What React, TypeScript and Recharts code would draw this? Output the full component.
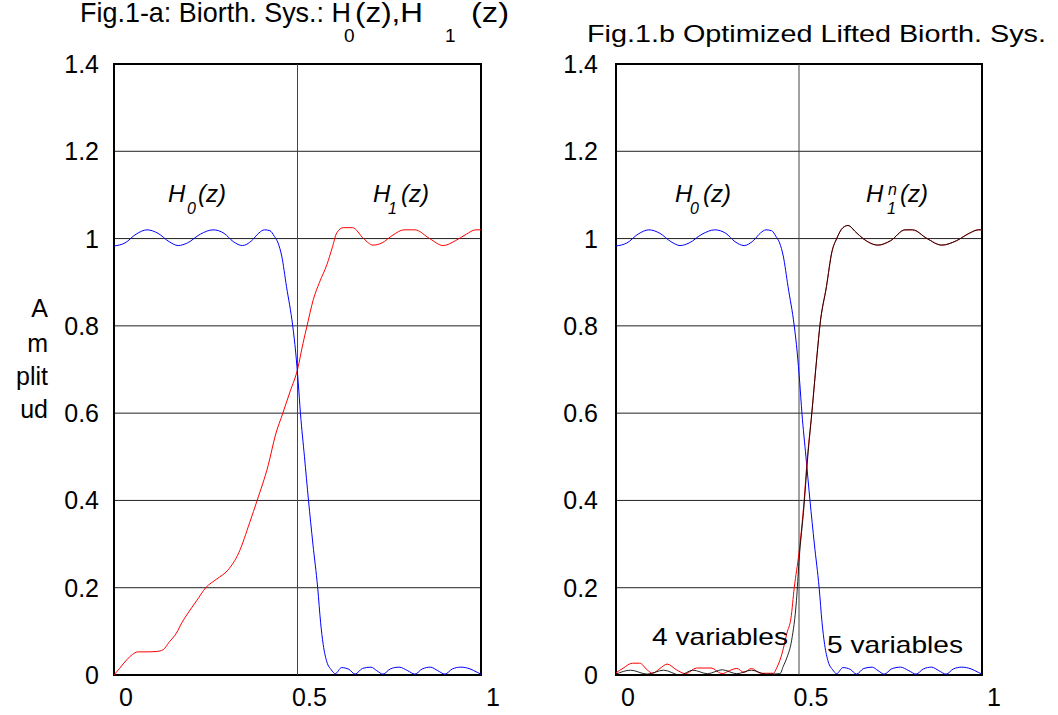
import React from "react";
import {
  LineChart,
  Line,
  XAxis,
  YAxis,
  CartesianGrid,
  ReferenceLine,
  ReferenceArea,
} from "recharts";

const FONT = '"Liberation Sans", Arial, Helvetica, sans-serif';

const xTicks = [0, 0.5, 1];
const yTicks = [0, 0.2, 0.4, 0.6, 0.8, 1, 1.2, 1.4];

// [normalized frequency, amplitude]
// H0(z) - lowpass, identical in both panels
const h0: number[][] = [
  [0, 0.983], [0.03, 0.99], [0.06, 1.01], [0.09, 1.02], [0.12, 1.012], [0.15, 0.993],
  [0.175, 0.984], [0.2, 0.99], [0.235, 1.01], [0.27, 1.02], [0.3, 1.012], [0.325, 0.993],
  [0.35, 0.984], [0.375, 0.995], [0.395, 1.013], [0.41, 1.02], [0.425, 1.018], [0.437, 1.005],
  [0.447, 0.99], [0.457, 0.96], [0.47, 0.89], [0.487, 0.8], [0.495, 0.74], [0.502, 0.67],
  [0.508, 0.6], [0.519, 0.5], [0.53, 0.4], [0.542, 0.3], [0.555, 0.2], [0.563, 0.12],
  [0.57, 0.07], [0.58, 0.03], [0.592, 0.012], [0.603, 0.003], [0.62, 0.017], [0.64, 0.013],
  [0.657, 0.002], [0.677, 0.015], [0.7, 0.018], [0.716, 0.01], [0.733, 0.002], [0.753, 0.014],
  [0.777, 0.018], [0.8, 0.01], [0.82, 0.002], [0.84, 0.014], [0.862, 0.018], [0.882, 0.01],
  [0.902, 0.002], [0.922, 0.014], [0.945, 0.018], [0.97, 0.014], [0.99, 0.006], [1, 0.002],
];

// H1(z) - original biorthogonal highpass (fig 1-a)
const h1: number[][] = [
  [0, 0], [0.015, 0.015], [0.035, 0.035], [0.05, 0.047], [0.065, 0.053], [0.09, 0.053],
  [0.117, 0.054], [0.134, 0.058], [0.15, 0.075], [0.17, 0.096], [0.185, 0.12], [0.2, 0.14],
  [0.225, 0.17], [0.25, 0.2], [0.28, 0.22], [0.31, 0.24], [0.34, 0.28], [0.37, 0.35],
  [0.39, 0.4], [0.42, 0.48], [0.44, 0.55], [0.46, 0.6], [0.48, 0.65], [0.5, 0.7],
  [0.515, 0.76], [0.526, 0.8], [0.543, 0.86], [0.56, 0.9], [0.58, 0.94], [0.595, 0.98],
  [0.607, 1.013], [0.625, 1.025], [0.65, 1.025], [0.68, 1.0], [0.706, 0.985], [0.73, 0.99],
  [0.76, 1.008], [0.79, 1.02], [0.82, 1.02], [0.86, 1.0], [0.897, 0.984], [0.93, 0.995],
  [0.96, 1.01], [0.985, 1.02], [1, 1.02],
];

// lifted H1 with 4 variables (red)
const h1Four: number[][] = [
  [0, 0.005], [0.02, 0.016], [0.045, 0.027], [0.065, 0.027], [0.085, 0.012], [0.1, 0.004],
  [0.12, 0.015], [0.14, 0.025], [0.165, 0.012], [0.19, 0.003], [0.22, 0.016], [0.26, 0.016],
  [0.29, 0.003], [0.31, 0.01], [0.33, 0.015], [0.35, 0.006], [0.37, 0.015], [0.395, 0.004],
  [0.43, 0.004], [0.44, 0.018], [0.448, 0.034], [0.457, 0.06], [0.467, 0.096], [0.478, 0.13],
  [0.487, 0.2], [0.5, 0.28], [0.514, 0.4], [0.522, 0.49], [0.535, 0.6], [0.55, 0.74],
  [0.557, 0.8], [0.575, 0.89], [0.59, 0.97], [0.603, 1.0], [0.62, 1.025], [0.634, 1.03],
  [0.655, 1.015], [0.675, 1.0], [0.716, 0.985], [0.75, 0.995], [0.79, 1.02], [0.81, 1.02],
  [0.85, 1.0], [0.89, 0.985], [0.93, 0.995], [0.965, 1.012], [0.99, 1.02], [1, 1.02],
];

// lifted H1 with 5 variables (black)
const h1Five: number[][] = [
  [0, 0.002], [0.04, 0.011], [0.085, 0.002], [0.13, 0.011], [0.175, 0.0], [0.21, 0.011],
  [0.25, 0.003], [0.29, 0.012], [0.33, 0.003], [0.37, 0.011], [0.41, 0.002], [0.448, 0.003],
  [0.457, 0.02], [0.467, 0.04], [0.48, 0.08], [0.493, 0.17], [0.5, 0.26], [0.514, 0.39],
  [0.522, 0.48], [0.535, 0.6], [0.55, 0.74], [0.557, 0.8], [0.575, 0.89], [0.59, 0.97],
  [0.603, 1.0], [0.62, 1.025], [0.634, 1.03], [0.655, 1.015], [0.675, 1.0], [0.716, 0.985],
  [0.75, 0.995], [0.79, 1.02], [0.81, 1.02], [0.85, 1.0], [0.89, 0.985], [0.93, 0.995],
  [0.965, 1.012], [0.99, 1.02], [1, 1.02],
];

const toData = (pts: number[][]) => pts.map(([f, v]) => ({ f, v }));

const XTick = (props: any) => {
  const { x, y, payload } = props;
  return (
    <text x={x + 12} y={y} dy="0.71em" textAnchor="middle" fontSize={25} fontFamily={FONT} fill="#000">
      {payload.value}
    </text>
  );
};

const YTick = (props: any) => {
  const { x, y, payload } = props;
  return (
    <text x={x} y={y} dy="0.36em" textAnchor="end" fontSize={25} fontFamily={FONT} fill="#000">
      {payload.value}
    </text>
  );
};

interface Series {
  pts: number[][];
  color: string;
  opacity?: number;
}

function Panel({
  left,
  width,
  marginLeft,
  marginRight,
  labelGap,
  series,
}: {
  left: number;
  width: number;
  marginLeft: number;
  marginRight: number;
  labelGap: number;
  series: Series[];
}) {
  return (
    <div style={{ position: "absolute", left, top: 0 }}>
      <LineChart
        width={width}
        height={715}
        margin={{ top: 64, right: marginRight, bottom: 0, left: marginLeft }}
      >
        <CartesianGrid vertical={false} stroke="#222" strokeWidth={1} />
        <XAxis
          type="number"
          dataKey="f"
          domain={[0, 1]}
          ticks={xTicks}
          interval={0}
          height={40}
          tickSize={0}
          tickMargin={13}
          axisLine={false}
          tickLine={false}
          tick={<XTick />}
          allowDataOverflow
        />
        <YAxis
          type="number"
          domain={[0, 1.4]}
          ticks={yTicks}
          interval={0}
          width={60}
          tickSize={0}
          tickMargin={labelGap}
          axisLine={false}
          tickLine={false}
          tick={<YTick />}
          allowDataOverflow
        />
        <ReferenceLine x={0.5} stroke="#444" strokeWidth={1} />
        <ReferenceArea x1={0} x2={1} y1={0} y2={1.4} fill="none" stroke="#000" strokeWidth={2} />
        {series.map((s, i) => (
          <Line
            key={i}
            data={toData(s.pts)}
            dataKey="v"
            type="monotone"
            stroke={s.color}
            strokeOpacity={s.opacity ?? 1}
            strokeWidth={1}
            dot={false}
            activeDot={false}
            isAnimationActive={false}
          />
        ))}
      </LineChart>
    </div>
  );
}

// stretched text so the wide glyphs of the original fit
const Stretch = ({ x, y, w, size, children }: any) => (
  <text x={x} y={y} fontSize={size} textLength={w} lengthAdjust="spacingAndGlyphs">
    {children}
  </text>
);

export default function App() {
  return (
    <div style={{ position: "absolute", left: 0, top: 0, width: 1058, height: 715, background: "#fff" }}>
      <Panel
        left={0}
        width={530}
        marginLeft={54}
        marginRight={49}
        labelGap={15}
        series={[
          { pts: h1, color: "#ff0000" },
          { pts: h0, color: "#0000ff" },
        ]}
      />
      <Panel
        left={530}
        width={528}
        marginLeft={26}
        marginRight={76}
        labelGap={18}
        series={[
          { pts: h0, color: "#0000ff" },
          { pts: h1Four, color: "#ff0000" },
          { pts: h1Five, color: "#000000", opacity: 0.85 },
        ]}
      />
      <svg
        width={1058}
        height={715}
        style={{ position: "absolute", left: 0, top: 0, pointerEvents: "none" }}
        fontFamily={FONT}
        fill="#000"
      >
        {/* left title */}
        <Stretch x={80} y={22} w={271} size={28}>Fig.1-a: Biorth. Sys.: H</Stretch>
        <text x={344} y={42} fontSize={19}>0</text>
        <Stretch x={355} y={22} w={68} size={28}>(z),H</Stretch>
        <text x={445} y={42} fontSize={19}>1</text>
        <Stretch x={471} y={22} w={38} size={28}>(z)</Stretch>
        {/* right title */}
        <Stretch x={587} y={42} w={459} size={24}>Fig.1.b Optimized Lifted Biorth. Sys.</Stretch>

        {/* y axis label */}
        <text x={48} y={317} fontSize={25} textAnchor="end">A</text>
        <text x={48} y={352} fontSize={25} textAnchor="end">m</text>
        <text x={48} y={385} fontSize={25} textAnchor="end">plit</text>
        <text x={48} y={418} fontSize={25} textAnchor="end">ud</text>

        {/* curve labels, left */}
        <text x={168} y={202} fontSize={24} fontStyle="italic">H</text>
        <text x={187} y={214} fontSize={16} fontStyle="italic">0</text>
        <text x={198} y={202} fontSize={24} fontStyle="italic">(z)</text>
        <text x={373} y={202} fontSize={24} fontStyle="italic">H</text>
        <text x={388} y={214} fontSize={16} fontStyle="italic">1</text>
        <text x={401} y={202} fontSize={24} fontStyle="italic">(z)</text>

        {/* curve labels, right */}
        <text x={675} y={202} fontSize={24} fontStyle="italic">H</text>
        <text x={690} y={214} fontSize={16} fontStyle="italic">0</text>
        <text x={703} y={202} fontSize={24} fontStyle="italic">(z)</text>
        <text x={866} y={202} fontSize={24} fontStyle="italic">H</text>
        <text x={888} y={195} fontSize={16} fontStyle="italic">n</text>
        <text x={887} y={214} fontSize={16} fontStyle="italic">1</text>
        <text x={900} y={202} fontSize={24} fontStyle="italic">(z)</text>

        <Stretch x={652} y={645} w={136} size={24}>4 variables</Stretch>
        <Stretch x={827} y={653} w={136} size={24}>5 variables</Stretch>
      </svg>
    </div>
  );
}
